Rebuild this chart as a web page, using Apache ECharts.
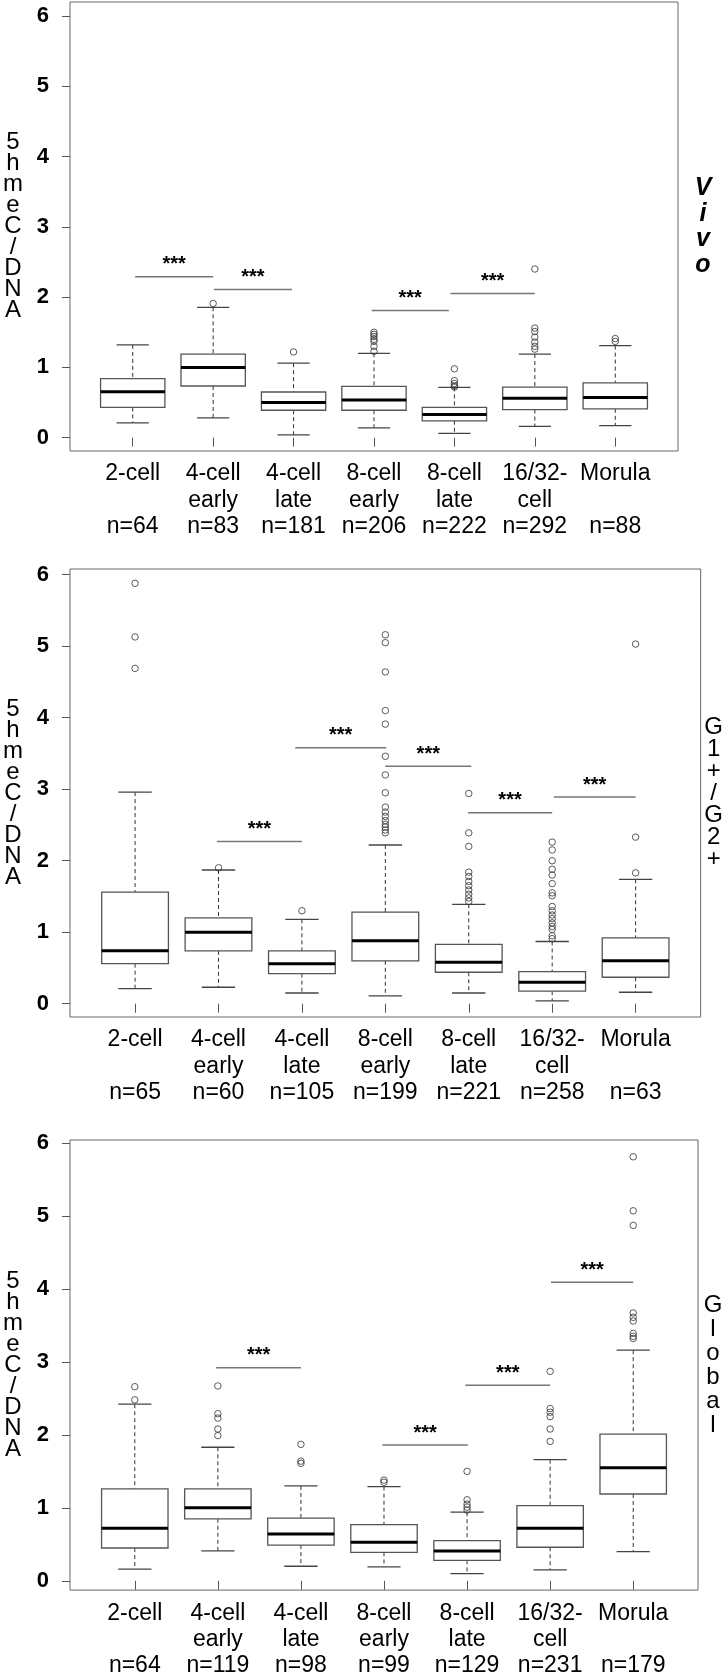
<!DOCTYPE html>
<html>
<head>
<meta charset="utf-8">
<script src="https://cdn.jsdelivr.net/npm/echarts@6/dist/echarts.min.js"></script>
<style>
html,body{margin:0;padding:0;background:#fff;}
#chart{width:726px;height:1679px;}
</style>
</head>
<body>
<div id="chart"></div>
<script>
// ---------- data ----------
const catLine1 = ['2-cell', '4-cell', '4-cell', '8-cell', '8-cell', '16/32-', 'Morula'];
const catLine2 = ['', 'early', 'late', 'early', 'late', 'cell', ''];
const yTicks = [0, 1, 2, 3, 4, 5, 6];
const xTicks = [1, 2, 3, 4, 5, 6, 7];

const nVivo = [64, 83, 181, 206, 222, 292, 88];
const nG1G2 = [65, 60, 105, 199, 221, 258, 63];
const nGlobal = [64, 119, 98, 99, 129, 231, 179];

// [lower whisker, Q1, median, Q3, upper whisker]
const statsVivo = [
  [0.21, 0.43, 0.655, 0.84, 1.32],
  [0.28, 0.735, 1.00, 1.19, 1.855],
  [0.04, 0.39, 0.50, 0.65, 1.06],
  [0.14, 0.39, 0.535, 0.73, 1.20],
  [0.06, 0.24, 0.33, 0.43, 0.715],
  [0.16, 0.40, 0.56, 0.72, 1.19],
  [0.17, 0.41, 0.57, 0.78, 1.31]
];
const outVivo = [
  [],
  [1.91],
  [1.22],
  [1.50, 1.47, 1.44, 1.40, 1.37, 1.30, 1.23],
  [0.98, 0.81, 0.77, 0.74, 0.72],
  [2.40, 1.56, 1.51, 1.43, 1.36, 1.30, 1.26],
  [1.41, 1.37]
];
// [from x, to x, y]
const sigVivo = [[1.03, 2.0, 2.29], [2.01, 2.98, 2.11], [3.97, 4.93, 1.81], [4.95, 6.0, 2.05]];

const statsG1G2 = [
  [0.21, 0.56, 0.74, 1.56, 2.96],
  [0.23, 0.74, 1.00, 1.20, 1.87],
  [0.15, 0.42, 0.56, 0.74, 1.18],
  [0.11, 0.60, 0.88, 1.28, 2.22],
  [0.15, 0.44, 0.58, 0.83, 1.39],
  [0.04, 0.175, 0.30, 0.45, 0.87],
  [0.16, 0.37, 0.60, 0.92, 1.74]
];
const outG1G2 = [
  [5.88, 5.13, 4.69],
  [1.90],
  [1.30],
  [5.16, 5.05, 4.64, 4.10, 3.91, 3.46, 3.20, 2.95, 2.75, 2.68, 2.62, 2.56, 2.51, 2.47, 2.43, 2.39],
  [2.94, 2.39, 2.20, 1.84, 1.78, 1.71, 1.65, 1.59, 1.53, 1.48, 1.43],
  [2.26, 2.15, 2.00, 1.88, 1.80, 1.68, 1.55, 1.51, 1.36, 1.30, 1.24, 1.19, 1.13, 1.08, 1.04, 0.95, 0.91],
  [5.03, 2.33, 1.83]
];
const sigG1G2 = [[1.98, 3.0, 2.27], [2.92, 4.01, 3.58], [4.0, 5.03, 3.32], [4.99, 6.0, 2.67], [6.02, 7.0, 2.89]];

const statsGlobal = [
  [0.16, 0.45, 0.72, 1.26, 2.42],
  [0.41, 0.85, 1.00, 1.26, 1.83],
  [0.20, 0.49, 0.64, 0.86, 1.30],
  [0.19, 0.39, 0.53, 0.77, 1.29],
  [0.10, 0.28, 0.41, 0.55, 0.94],
  [0.15, 0.46, 0.72, 1.03, 1.66],
  [0.40, 1.19, 1.55, 2.01, 3.16]
];
const outGlobal = [
  [2.66, 2.48],
  [2.67, 2.29, 2.23, 2.08, 1.99],
  [1.87, 1.64, 1.61],
  [1.38, 1.35],
  [1.50, 1.11, 1.05, 1.01, 0.97],
  [2.87, 2.36, 2.31, 2.25, 2.08, 1.91],
  [5.81, 5.07, 4.87, 3.67, 3.61, 3.56, 3.39, 3.35, 3.32]
];
const sigGlobal = [[1.98, 3.0, 2.92], [3.98, 5.01, 1.86], [4.98, 6.0, 2.68], [6.01, 7.0, 4.09]];

const yTitle = '5\nh\nm\ne\nC\n/\nD\nN\nA';
const panelLabels = ['V\ni\nv\no', 'G\n1\n+\n/\nG\n2\n+', 'G\nl\no\nb\na\nl'];

// ---------- layout ----------
const FONT = 'Liberation Sans';
const panels = [
  {stats: statsVivo, out: outVivo, sig: sigVivo, n: nVivo, grid: {left: 69, top: 2, width: 609, height: 449}, yMin: -0.19, yMax: 6.2,
    label: {gap: 25, size: 25, style: 'italic', weight: 'bold', lh: 25.5, pad: [8, 0, 0, 0]}},
  {stats: statsG1G2, out: outG1G2, sig: sigG1G2, n: nG1G2, grid: {left: 69, top: 569, width: 632, height: 448}, yMin: -0.186, yMax: 6.08,
    label: {gap: 13, size: 24, style: 'normal', weight: 'normal', lh: 22, pad: [0, 0, 6, 0]}},
  {stats: statsGlobal, out: outGlobal, sig: sigGlobal, n: nGlobal, grid: {left: 69, top: 1140, width: 629, height: 451}, yMin: -0.127, yMax: 6.04,
    label: {gap: 15, size: 24, style: 'normal', weight: 'normal', lh: 24, pad: [36, 0, 0, 0]}}
];

const BOX_HALF = 0.4, STAPLE_HALF = 0.2;

function renderBox(params, api) {
  const x = api.value(0);
  const lo = api.value(1), q1 = api.value(2), md = api.value(3), q3 = api.value(4), hi = api.value(5);
  const tl = api.coord([x - BOX_HALF, q3]);
  const br = api.coord([x + BOX_HALF, q1]);
  const mL = api.coord([x - BOX_HALF, md]);
  const mR = api.coord([x + BOX_HALF, md]);
  const cHi = api.coord([x, hi]);
  const cLo = api.coord([x, lo]);
  const sHiL = api.coord([x - STAPLE_HALF, hi]);
  const sHiR = api.coord([x + STAPLE_HALF, hi]);
  const sLoL = api.coord([x - STAPLE_HALF, lo]);
  const sLoR = api.coord([x + STAPLE_HALF, lo]);
  const dash = {stroke: '#333', lineWidth: 1, lineDash: [4, 3]};
  const solid = {stroke: '#444', lineWidth: 1.3};
  return {
    type: 'group',
    children: [
      {type: 'line', shape: {x1: cHi[0], y1: cHi[1], x2: cHi[0], y2: tl[1]}, style: dash},
      {type: 'line', shape: {x1: cLo[0], y1: br[1], x2: cLo[0], y2: cLo[1]}, style: dash},
      {type: 'line', shape: {x1: sHiL[0], y1: sHiL[1], x2: sHiR[0], y2: sHiR[1]}, style: solid},
      {type: 'line', shape: {x1: sLoL[0], y1: sLoL[1], x2: sLoR[0], y2: sLoR[1]}, style: solid},
      {type: 'rect', shape: {x: tl[0], y: tl[1], width: br[0] - tl[0], height: br[1] - tl[1]},
        style: {fill: '#fff', stroke: '#555', lineWidth: 1.3}},
      {type: 'line', shape: {x1: mL[0], y1: mL[1], x2: mR[0], y2: mR[1]}, style: {stroke: '#000', lineWidth: 3}}
    ]
  };
}

function renderSig(params, api) {
  const p1 = api.coord([api.value(0), api.value(2)]);
  const p2 = api.coord([api.value(1), api.value(2)]);
  return {
    type: 'group',
    children: [
      {type: 'line', shape: {x1: p1[0], y1: p1[1], x2: p2[0], y2: p2[1]}, style: {stroke: '#777', lineWidth: 1.5}},
      {type: 'text', x: (p1[0] + p2[0]) / 2, y: p1[1] - 12,
        style: {text: '***', fontSize: 20, fontWeight: 'bold', fontFamily: FONT, fill: '#000', align: 'center', verticalAlign: 'middle'}}
    ]
  };
}

const grids = [], xAxes = [], yAxes = [], series = [];
panels.forEach((p, i) => {
  grids.push(Object.assign({show: true, borderColor: '#666', borderWidth: 1, backgroundColor: 'transparent'}, p.grid));
  xAxes.push({
    type: 'value', gridIndex: i, min: 0.22, max: 7.78,
    axisLine: {show: false}, splitLine: {show: false},
    axisTick: {show: true, customValues: xTicks, length: 9, inside: false, lineStyle: {color: '#555', width: 1}},
    axisLabel: {
      customValues: xTicks, margin: 10, color: '#000', fontFamily: FONT, fontSize: 23, lineHeight: 26.3,
      formatter: (v) => { const k = Math.round(v) - 1; return catLine1[k] + '\n' + catLine2[k] + '\nn=' + p.n[k]; }
    }
  });
  // left value axis, also carrying the stacked y title
  yAxes.push({
    type: 'value', gridIndex: i, min: p.yMin, max: p.yMax, position: 'left',
    axisLine: {show: false}, splitLine: {show: false},
    axisTick: {show: true, customValues: yTicks, length: 8, inside: false, lineStyle: {color: '#555', width: 1}},
    axisLabel: {customValues: yTicks, margin: 21, color: '#000', fontFamily: FONT, fontSize: 22, fontWeight: 'bold',
      formatter: (v) => String(Math.round(v))},
    name: yTitle, nameLocation: 'middle', nameRotate: 0, nameGap: 57,
    nameTextStyle: {fontFamily: FONT, fontSize: 24, lineHeight: 21, color: '#000',
      align: 'center', verticalAlign: 'middle', padding: [6, 0, 0, 0]}
  });
  // right axis carrying only the panel label
  yAxes.push({
    type: 'value', gridIndex: i, min: p.yMin, max: p.yMax, position: 'right',
    axisLine: {show: false}, splitLine: {show: false}, axisTick: {show: false}, axisLabel: {show: false},
    name: panelLabels[i], nameLocation: 'middle', nameRotate: 0, nameGap: p.label.gap,
    nameTextStyle: {fontFamily: FONT, fontSize: p.label.size, fontStyle: p.label.style, fontWeight: p.label.weight,
      lineHeight: p.label.lh, color: '#000', align: 'center', verticalAlign: 'middle', padding: p.label.pad}
  });
  const yi = i * 2;
  series.push({
    type: 'custom', xAxisIndex: i, yAxisIndex: yi, renderItem: renderBox, clip: false,
    encode: {x: 0, y: [1, 2, 3, 4, 5]},
    data: p.stats.map((s, k) => [xTicks[k]].concat(s)), z: 2
  });
  const pts = [];
  p.out.forEach((arr, k) => arr.forEach(v => pts.push([xTicks[k], v])));
  series.push({
    type: 'scatter', xAxisIndex: i, yAxisIndex: yi, data: pts, symbol: 'circle', symbolSize: 6.5,
    itemStyle: {color: 'rgba(255,255,255,0)', borderColor: '#333', borderWidth: 1}, z: 3
  });
  series.push({
    type: 'custom', xAxisIndex: i, yAxisIndex: yi, renderItem: renderSig, clip: false,
    encode: {x: [0, 1], y: 2}, data: p.sig, z: 4
  });
});

const chart = echarts.init(document.getElementById('chart'), null, {renderer: 'canvas'});
chart.setOption({
  animation: false,
  backgroundColor: '#fff',
  textStyle: {fontFamily: FONT},
  grid: grids, xAxis: xAxes, yAxis: yAxes, series: series
});
</script>
</body>
</html>
